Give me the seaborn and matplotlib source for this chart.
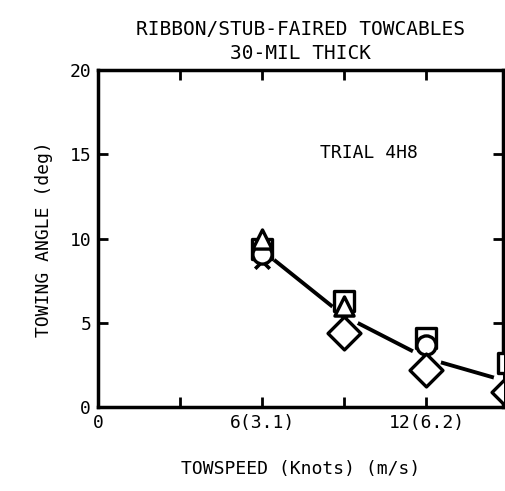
import matplotlib
matplotlib.use("Agg")
import matplotlib.pyplot as plt
import seaborn as sns

sns.set_theme(style="white")
plt.rcParams['font.family'] = ['DejaVu Sans Mono', 'DejaVu Sans']
plt.rcParams['text.color'] = 'black'
plt.rcParams['axes.labelcolor'] = 'black'

# data (knots, deg)
tri_x = [6, 9]
tri_y = [10.0, 6.0]
sq_x = [6, 9, 12, 15]
sq_y = [9.4, 6.3, 4.1, 2.6]
circ_x = [6, 12]
circ_y = [9.1, 3.7]
x_x = [6, 9]
x_y = [8.7, 5.3]
dia_x = [9, 12, 15]
dia_y = [4.4, 2.2, 0.9]
fit_x = [6, 9, 12, 15]
fit_y = [9.3, 5.4, 2.9, 1.5]

xtick_vals = [0, 3, 6, 9, 12]
xtick_labels = ["0", "", "6(3.1)", "", "12(6.2)"]
ytick_vals = [0, 5, 10, 15, 20]

fig = plt.figure(figsize=(5.06, 4.91), dpi=100)
ax = fig.add_axes([0.194, 0.171, 0.80, 0.686])

sns.lineplot(x=fit_x, y=fit_y, ax=ax, color="black", lw=2.8)
# white gaps around the marker positions
sns.scatterplot(x=fit_x, y=fit_y, ax=ax, s=480, color="white", edgecolor="none", zorder=3)

kw = dict(ax=ax, facecolor="white", edgecolor="black", linewidth=2.4, zorder=4)
sns.scatterplot(x=x_x, y=x_y, marker="x", s=110, color="black", linewidth=2.6, ax=ax, zorder=4)
sns.scatterplot(x=sq_x, y=sq_y, marker="s", s=190, **kw)
sns.scatterplot(x=circ_x, y=circ_y, marker="o", s=190, **kw)
sns.scatterplot(x=tri_x, y=tri_y, marker="^", s=190, **kw)
sns.scatterplot(x=dia_x, y=dia_y, marker="D", s=280, **kw)

ax.set_xlim(0, 14.8)
ax.set_ylim(0, 20)
ax.set_xticks(xtick_vals)
ax.set_xticklabels(xtick_labels)
ax.set_yticks(ytick_vals)
ax.tick_params(direction="in", length=7, width=2, colors="black", labelsize=13,
               top=True, right=True, bottom=True, left=True, pad=5)
for sp in ax.spines.values():
    sp.set_linewidth(2.5)
    sp.set_color("black")

ax.text(9.9, 15.1, "TRIAL 4H8", fontsize=13, ha="center", va="center", color="black")
ax.set_xlabel("TOWSPEED (Knots) (m/s)", fontsize=13, labelpad=20, color="black")
ax.set_ylabel("TOWING ANGLE (deg)", fontsize=13, labelpad=12, color="black")
ax.set_title("RIBBON/STUB-FAIRED TOWCABLES\n30-MIL THICK", fontsize=14, pad=8,
             linespacing=1.35, color="black")

fig.savefig("out.png", dpi=100)
